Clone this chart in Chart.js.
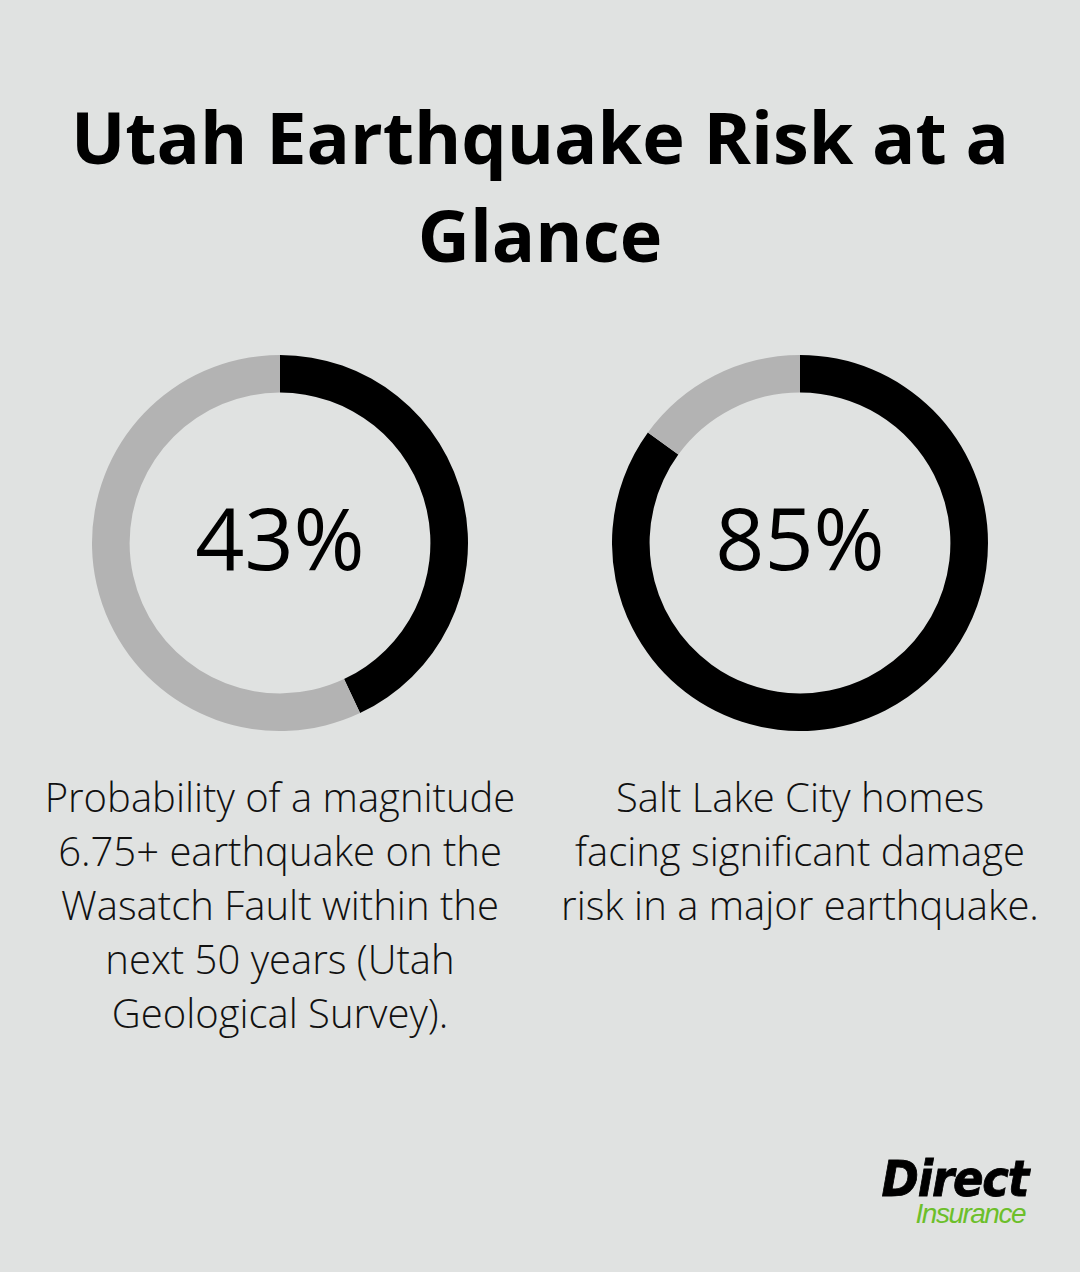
<!DOCTYPE html>
<html>
<head>
<meta charset="utf-8">
<script src="https://cdn.jsdelivr.net/npm/chart.js@4"></script>
<style>
  html, body { margin:0; padding:0; }
  body { width:1080px; height:1272px; background:#e0e2e1; position:relative; overflow:hidden; font-family:"Open Sans", sans-serif; color:#000; }
  .title { position:absolute; left:0; width:1080px; top:87px; text-align:center; font-weight:700; font-size:72px; line-height:98px; }
  .donut { position:absolute; width:376px; height:376px; }
  .pct { position:absolute; width:376px; text-align:center; font-size:86px; line-height:86px; top:494px; font-weight:500; }
  .desc { position:absolute; width:520px; text-align:center; font-size:40px; line-height:54px; top:770px; font-weight:300; color:#111; }
  .logo { position:absolute; left:870px; top:1156px; width:160px; text-align:right; font-style:italic; }
  .logo .d { font-weight:700; font-size:50px; letter-spacing:-1.2px; line-height:46px; display:block; font-family:"DejaVu Sans Condensed","DejaVu Sans", sans-serif; margin-right:2px; -webkit-text-stroke:0.8px #000; }
  .logo .i { font-size:28px; color:#6cbf2a; letter-spacing:-1.5px; line-height:24px; display:block; font-family:"Liberation Sans Narrow","Liberation Sans", sans-serif; margin-right:5px; }
</style>
</head>
<body>
<div class="title">Utah Earthquake Risk at a<br>Glance</div>

<div class="donut" style="left:92px; top:355px;"><canvas id="c0"></canvas></div>
<div class="donut" style="left:612px; top:355px;"><canvas id="c1"></canvas></div>
<div class="pct" id="p0" style="left:92px;"></div>
<div class="pct" id="p1" style="left:612px;"></div>
<div class="desc" id="d0" style="left:20px;"></div>
<div class="desc" id="d1" style="left:540px;"></div>

<div class="logo"><span class="d">Direct</span><span class="i">Insurance</span></div>

<script>
const categories = ["Wasatch Fault M6.75+ probability (50 yrs)", "Salt Lake City homes at significant damage risk"];
const percentValues = [43, 85];
const percentLabels = ["43%", "85%"];
const descriptions = [
  ["Probability of a magnitude", "6.75+ earthquake on the", "Wasatch Fault within the", "next 50 years (Utah", "Geological Survey)."],
  ["Salt Lake City homes", "facing significant damage", "risk in a major earthquake."]
];
const filledColor = "#000000";
const remainColor = "#b3b3b3";

percentValues.forEach((v, i) => {
  document.getElementById("p" + i).textContent = percentLabels[i];
  document.getElementById("d" + i).innerHTML = descriptions[i].join("<br>");
  new Chart(document.getElementById("c" + i), {
    type: "doughnut",
    data: {
      labels: [categories[i], "Remaining"],
      datasets: [{
        data: [v, 100 - v],
        backgroundColor: [filledColor, remainColor],
        borderWidth: 0,
        hoverOffset: 0
      }]
    },
    options: {
      responsive: true,
      maintainAspectRatio: false,
      animation: false,
      cutout: "80%",
      layout: { padding: 0 },
      plugins: { legend: { display: false }, tooltip: { enabled: false } }
    }
  });
});
</script>
</body>
</html>
